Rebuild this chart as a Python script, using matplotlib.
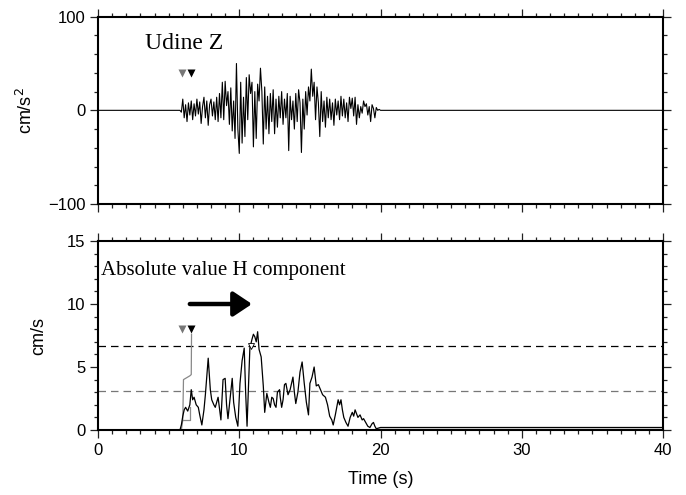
"""Udine Z acceleration and absolute horizontal velocity traces."""

import matplotlib
matplotlib.use('Agg')
import matplotlib.pyplot as plt
from matplotlib.ticker import MultipleLocator
import numpy as np

# Vertical acceleration (cm/s^2), sampled every 0.1 s from 5.8 s to 20.0 s
Z_T0 = 5.8
Z_DT = 0.1
z_acc = [
    0, -2, 12, -8, 6, -12, 8, -5, 10, -10,
    7, -6, 12, -4, 9, -14, 4, 14, -8, 10,
    -16, 6, 12, -6, 9, -10, 14, -12, 18, -8,
    30, -10, 31, 5, 20, -15, 24, -22, 10, -30,
    50, -20, -46, 30, -35, 14, -28, 35, -10, 38,
    18, 30, -39, 20, -30, 28, 10, 45, 20, -36,
    25, -20, 15, -25, 18, -12, 22, -25, 12, -18,
    15, -8, 20, -15, 12, -8, 18, -43, 15, -10,
    10, -20, 18, -12, 22, 8, -45, 12, -20, 20,
    -5, 25, 10, 44, 15, 30, -10, 25, 8, -28,
    20, -12, 10, -18, 14, -8, 12, -10, 8, -16,
    12, -5, 10, -10, 15, -6, 12, -8, 8, -12,
    14, 2, 13, -6, 14, -15, 6, -8, 4, -3,
    10, 4, 7, -5, 4, -12, 6, 2, -8, 3,
    0, 1, 0,
]

# Absolute horizontal velocity (cm/s)
h_time = [
    0.0, 5.8, 5.9, 6.0, 6.1, 6.2, 6.35, 6.5, 6.6, 6.7,
    6.8, 6.95, 7.1, 7.2, 7.35, 7.5, 7.6, 7.8, 7.95, 8.05,
    8.2, 8.3, 8.4, 8.5, 8.7, 8.85, 9.0, 9.1, 9.2, 9.35,
    9.5, 9.6, 9.75, 9.9, 10.05, 10.2, 10.35, 10.45, 10.55, 10.75,
    10.9, 11.0, 11.1, 11.2, 11.3, 11.4, 11.55, 11.7, 11.8, 11.95,
    12.1, 12.2, 12.3, 12.4, 12.5, 12.6, 12.7, 12.85, 12.9, 13.0,
    13.1, 13.2, 13.3, 13.45, 13.6, 13.8, 13.9, 14.0, 14.15, 14.3,
    14.45, 14.6, 14.75, 14.9, 15.0, 15.15, 15.3, 15.45, 15.6, 15.75,
    15.9, 16.1, 16.25, 16.4, 16.55, 16.65, 16.8, 17.0, 17.1, 17.2,
    17.3, 17.4, 17.55, 17.7, 17.85, 18.0, 18.1, 18.2, 18.3, 18.4,
    18.55, 18.7, 18.8, 18.95, 19.1, 19.25, 19.4, 19.5, 19.6, 19.7,
    19.85, 20.0, 40.0,
]
h_vel = [
    0, 0, 0.4, 1.1, 1.6, 1.8, 1.5, 2.0, 3.2, 2.4,
    2.6, 2.0, 1.8, 1.2, 0.4, 1.6, 2.8, 5.7, 3.2, 2.4,
    2.0, 1.8, 2.2, 2.6, 0.8, 4.0, 4.1, 2.0, 0.9, 2.5,
    4.1, 2.2, 1.0, 0.3, 3.7, 5.5, 6.5, 3.0, 0.3, 6.5,
    7.2, 7.6, 7.4, 7.0, 7.8, 6.4, 5.8, 3.5, 1.4, 2.9,
    2.2, 1.8, 2.6, 2.5, 2.0, 1.8, 3.0, 3.2, 2.6, 1.8,
    2.4, 3.6, 3.7, 2.8, 3.2, 4.2, 3.0, 2.1, 3.0, 4.6,
    5.4, 3.7, 2.2, 1.2, 3.7, 4.2, 5.0, 3.5, 3.6, 3.2,
    2.8, 2.6, 2.0, 1.1, 0.8, 0.4, 1.2, 2.4, 2.0, 2.4,
    1.6, 1.0, 0.6, 0.3, 1.0, 1.4, 1.1, 1.6, 1.3, 1.0,
    1.2, 0.8, 0.9, 0.6, 0.3, 0.2, 0.5, 0.6, 0.3, 0.1,
    0.15, 0.2, 0.2,
]

# Grey comparison trace
g_time = [0.0, 5.9, 6.0, 6.05, 6.5, 6.6, 6.62]
g_vel = [0, 0, 0.8, 4.0, 4.3, 4.4, 7.6]
g_box_time = [6.05, 6.5, 6.5]
g_box_vel = [0.8, 0.8, 1.8]
g_tail_time = [19.8, 40.0]
g_tail_vel = [0.08, 0.08]

# Phase picks (s) and thresholds (cm/s)
pick_grey = 5.95
pick_black = 6.6
thr_high = 6.7
thr_low = 3.1
crossing_time = 10.8
arrow_start, arrow_end, arrow_level = 6.5, 10.9, 10.0

SANS = ['Liberation Sans', 'DejaVu Sans']
SERIF = ['Liberation Serif', 'DejaVu Serif']
plt.rcParams['font.family'] = SANS
plt.rcParams['font.size'] = 12
plt.rcParams['axes.unicode_minus'] = True

z_time = np.concatenate([[0.0], Z_T0 + Z_DT * np.arange(len(z_acc)), [40.0]])
z_vals = np.concatenate([[0.0], z_acc, [0.0]])

fig = plt.figure(figsize=(6.86, 4.95), dpi=100)
ax1 = fig.add_axes([0.1429, 0.5879, 0.8236, 0.3784])
ax2 = fig.add_axes([0.1429, 0.1313, 0.8236, 0.3818])


def style_axes(ax):
    for s in ax.spines.values():
        s.set_linewidth(1.5)
    ax.xaxis.set_major_locator(MultipleLocator(10))
    ax.xaxis.set_minor_locator(MultipleLocator(1))
    ax.tick_params(which='both', direction='out', top=True, right=True,
                   width=0.9, color='#222222')
    ax.tick_params(which='major', length=6, pad=3)
    ax.tick_params(which='minor', length=3)
    ax.set_xlim(0, 40)


# Top panel: vertical acceleration
style_axes(ax1)
ax1.set_ylim(-100, 100)
ax1.yaxis.set_major_locator(MultipleLocator(100))
ax1.yaxis.set_minor_locator(MultipleLocator(20))
ax1.tick_params(labelbottom=False)
ax1.plot(z_time, z_vals, color='black', lw=0.8)
ax1.text(3.33, 65, 'Udine Z', family=SERIF, fontsize=17, va='baseline')
ax1.plot([pick_grey], [40], marker='v', color='#777777', ms=6, mec='none')
ax1.plot([pick_black], [40], marker='v', color='black', ms=6, mec='none')
ax1.set_ylabel('cm/s$^2$', fontsize=13, labelpad=9)

# Bottom panel: absolute horizontal velocity
style_axes(ax2)
ax2.set_ylim(0, 15)
ax2.yaxis.set_major_locator(MultipleLocator(5))
ax2.yaxis.set_minor_locator(MultipleLocator(1))
ax2.axhline(thr_high, color='black', lw=0.9, ls=(0, (6, 4)))
ax2.axhline(thr_low, color='#777777', lw=0.9, ls=(0, (6, 4)))
ax2.plot(g_time, g_vel, color='#888888', lw=0.9)
ax2.plot(g_box_time, g_box_vel, color='#888888', lw=0.9)
ax2.plot(g_tail_time, g_tail_vel, color='#777777', lw=1.0)
ax2.plot(h_time, h_vel, color='black', lw=0.9)
ax2.plot([crossing_time], [thr_high], marker='v', color='white', mec='black',
         mew=0.6, ms=5)
ax2.plot([pick_grey], [8.0], marker='v', color='#777777', ms=6, mec='none')
ax2.plot([pick_black], [8.0], marker='v', color='black', ms=6, mec='none')
ax2.annotate('', xy=(arrow_end, arrow_level), xytext=(arrow_start, arrow_level),
             arrowprops=dict(arrowstyle='-|>,head_length=0.45,head_width=0.3',
                             mutation_scale=25, lw=3.2, color='black',
                             shrinkA=0, shrinkB=0))
ax2.text(0.2, 12.3, 'Absolute value H component', family=SERIF, fontsize=15,
         va='baseline')
ax2.set_ylabel('cm/s', fontsize=13, labelpad=14)
ax2.set_xlabel('Time (s)', fontsize=13, labelpad=10)

fig.savefig('out.png', dpi=100, facecolor='white')
